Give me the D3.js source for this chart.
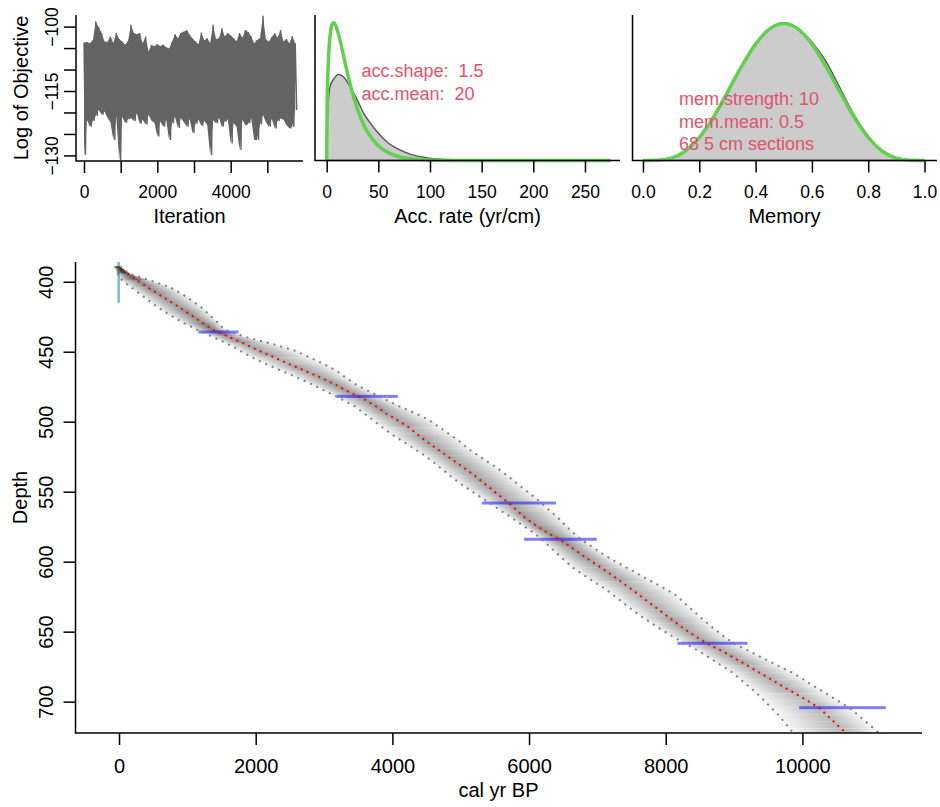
<!DOCTYPE html>
<html>
<head>
<meta charset="utf-8">
<script src="https://cdn.jsdelivr.net/npm/d3@7"></script>
<style>
body { margin: 0; background: #fff; }
svg text { font-family: "Liberation Sans", Arial, Helvetica, sans-serif; white-space: pre; }
</style>
</head>
<body>
<script>
// ---- MCMC trace (per-bin upper / lower envelope of the log objective, 80 iterations per bin)
var traceStep = 80;
var traceHi = [-103.7,-103.6,-103.9,-103.2,-98.8,-100.1,-101.5,-103.5,-103.6,-102.3,
  -103.8,-101.5,-102.9,-103.5,-104.2,-103.4,-99.6,-101.5,-101.8,-101.5,
  -103.9,-102.3,-105.8,-104.3,-104.6,-104.1,-104.5,-104.2,-104.8,-105.1,
  -103.6,-101.8,-102.7,-101.5,-101.2,-100.8,-101.9,-102.8,-103.5,-104.1,
  -101.4,-103.2,-102.7,-103.8,-99.6,-102.9,-102.7,-100.4,-102.3,-101.5,
  -102.1,-102.7,-103.4,-101.5,-102.6,-100.8,-101.3,-102.3,-103.9,-103.1,
  -102.7,-97.5,-103.0,-103.5,-102.4,-101.5,-102.6,-100.8,-103.5,-102.9,
  -103.9,-102.2,-103.9];
var traceLo = [-129.9,-121.7,-123.3,-122.0,-120.8,-119.4,-120.5,-119.8,-121.2,-122.3,
  -126.4,-120.9,-131.1,-121.0,-122.4,-121.6,-121.3,-122.0,-120.2,-122.6,
  -121.7,-122.8,-120.6,-121.9,-122.4,-125.6,-122.1,-123.3,-121.7,-126.4,
  -122.5,-121.0,-123.6,-121.3,-122.2,-123.3,-121.5,-124.8,-122.6,-121.7,
  -123.1,-122.0,-122.9,-129.9,-121.8,-122.5,-121.2,-123.3,-122.1,-121.6,
  -127.2,-122.4,-123.3,-128.7,-121.7,-123.0,-122.5,-121.4,-126.4,-126.4,
  -122.8,-120.6,-122.2,-123.3,-121.5,-123.7,-122.0,-121.4,-121.7,-122.9,
  -123.7,-123.3,-119.4];
var traceTicks = [0, 1000, 2000, 3000, 4000, 5000];
var traceLabels = [0, 2000, 4000];
var objTicks = [-130, -125, -120, -115, -110, -105, -100];
var objLabels = [-100, -115, -130];

// ---- accumulation rate: posterior (grey) and prior (green)
var accPostX = [0, 0.5, 1.5, 3.2, 7.1, 11.9, 16.8, 23.2, 29.7, 36.1, 42.6, 49, 58.7, 68.4, 81.3, 97.4, 113.5, 145.8, 200, 275];
var accPostY = [0, 0.009, 0.015, 0.0194, 0.0216, 0.0227, 0.0219, 0.0192, 0.0159, 0.0123, 0.0097, 0.0075, 0.0048, 0.0031, 0.0016, 0.0007, 0.0003, 0.0001, 0.00002, 0];
var accPriorX = [0, 0.5, 1, 2, 3, 4, 5, 6.7, 8, 10, 12, 15, 20, 25, 30, 35, 40, 50, 60, 70, 80, 100, 125, 150, 200, 275];
var accPriorY = [0, 0.0158, 0.0215, 0.0282, 0.0321, 0.0343, 0.0356, 0.0363, 0.0360, 0.0346, 0.0327, 0.0292, 0.0231, 0.0178, 0.0134, 0.0099, 0.0073, 0.0039, 0.0020, 0.0010, 0.0005, 0.00013, 0.00002, 0, 0, 0];
var accTicks = [0, 50, 100, 150, 200, 250];
var accText = ["acc.shape:  1.5", "acc.mean:  20"];

// ---- memory: posterior (grey) and prior (green)
var memX = [0, 0.05, 0.1, 0.15, 0.2, 0.25, 0.3, 0.35, 0.4, 0.45, 0.5, 0.55, 0.6, 0.65, 0.7, 0.75, 0.8, 0.85, 0.9, 0.95, 1];
var memPrior = [0, 0.0032, 0.0413, 0.1665, 0.413, 0.779, 1.225, 1.688, 2.09, 2.364, 2.461, 2.364, 2.09, 1.688, 1.225, 0.779, 0.413, 0.1665, 0.0413, 0.0032, 0];
var memPost = [0, 0.003, 0.04, 0.17, 0.40, 0.75, 1.20, 1.69, 2.09, 2.37, 2.45, 2.37, 2.13, 1.78, 1.30, 0.82, 0.44, 0.17, 0.04, 0.004, 0];
var memTicks = [0, 0.2, 0.4, 0.6, 0.8, 1.0];
var memText = ["mem.strength: 10", "mem.mean: 0.5", "68 5 cm sections"];

// ---- age-depth model (cal yr BP at each section boundary)
var depths = [389,394,399,404,409,414,419,424,429,434,
  439,444,449,454,459,464,469,474,479,484,
  489,494,499,504,509,514,519,524,529,534,
  539,544,549,554,559,564,569,574,579,584,
  589,594,599,604,609,614,619,624,629,634,
  639,644,649,654,659,664,669,674,679,684,
  689,694,699,704,709,714,719,724,729];
var meanAge = [-30,130,265,420,581,745,905,1058,1208,1357,
  1590,1818,2036,2267,2500,2737,2974,3185,3370,3590,
  3761,3903,4078,4237,4366,4495,4641,4787,4932,5078,
  5216,5344,5472,5598,5722,5837,5951,6097,6260,6440,
  6597,6740,6888,7045,7193,7339,7479,7616,7752,7888,
  8023,8160,8301,8455,8628,8832,9010,9186,9362,9538,
  9712,9888,10063,10234,10344,10453,10562,10670,10780];
var minAge = [-60,-20,45,180,315,450,588,755,925,1129,
  1352,1576,1760,1945,2161,2397,2633,2853,3057,3260,
  3453,3585,3718,3851,3989,4150,4310,4470,4603,4730,
  4855,4990,5140,5295,5450,5600,5755,5905,6055,6183,
  6295,6408,6520,6633,6784,6940,7100,7237,7370,7500,
  7642,7795,7950,8122,8300,8490,8652,8810,8970,9093,
  9215,9332,9435,9538,9640,9725,9810,9895,9980];
var maxAge = [20,140,450,750,930,1080,1220,1330,1440,1540,
  1820,2210,2560,2785,3007,3195,3330,3485,3690,3895,
  4100,4340,4540,4690,4835,4980,5100,5250,5405,5560,
  5690,5820,5950,6080,6200,6315,6430,6530,6635,6760,
  6910,7063,7230,7420,7605,7790,7980,8150,8260,8375,
  8490,8610,8735,8865,9020,9225,9425,9630,9840,10010,
  10170,10340,10505,10675,10800,10920,11040,11160,11280];

// ---- dates
var dateDepth = [389, 435.9, 481.9, 558.1, 584, 658.3, 704.3];
var dateMin = [-15, 1161, 3186, 5308, 5927, 8171, 9952];
var dateMax = [5, 1746, 4079, 6395, 6991, 9195, 11221];
var dateType = ["cal", "14C", "14C", "14C", "14C", "14C", "14C"];

var ageTicks = [0, 2000, 4000, 6000, 8000, 10000];
var depthTicks = [400, 450, 500, 550, 600, 650, 700];

var font = "'Liberation Sans', Arial, Helvetica, sans-serif";
var pink = "#DF536B", green = "#61D04F";

var svg = d3.select("body").append("svg")
    .attr("width", 940)
    .attr("height", 807);

function lbox(x0, x1, y0, y1) {
  svg.append("path")
      .attr("d", "M" + x0 + "," + y0 + "V" + y1 + "H" + x1)
      .attr("fill", "none").attr("stroke", "#000").attr("stroke-width", 1.5);
}

function xAxis(scale, y, ticks, labels, fmt, size, base) {
  var g = svg.append("g").attr("transform", "translate(0," + y + ")")
      .call(d3.axisBottom(scale).tickValues(ticks).tickSize(12).tickSizeOuter(0)
        .tickFormat(function(d) { return labels.indexOf(d) >= 0 ? fmt(d) : ""; }));
  g.select(".domain").remove();
  g.selectAll(".tick line").attr("stroke", "#000").attr("stroke-width", 1.5);
  g.selectAll(".tick text").attr("dy", null).attr("y", base).attr("fill", "#000")
      .style("font-size", size + "px").style("font-family", font);
}

function yAxis(scale, x, ticks, labels, size, off) {
  var g = svg.append("g").attr("transform", "translate(" + x + ",0)")
      .call(d3.axisLeft(scale).tickValues(ticks).tickSize(12).tickSizeOuter(0)
        .tickFormat(function(d) { return labels.indexOf(d) >= 0 ? String(d).replace("-", "\u2212") : ""; }));
  g.select(".domain").remove();
  g.selectAll(".tick line").attr("stroke", "#000").attr("stroke-width", 1.5);
  g.selectAll(".tick text").attr("dy", null).attr("x", null)
      .attr("transform", "translate(" + (-off) + ",0) rotate(-90)")
      .attr("text-anchor", "middle").attr("fill", "#000")
      .style("font-size", size + "px").style("font-family", font);
}

function label(txt, x, y, size, rot, col) {
  svg.append("text")
      .attr("transform", "translate(" + x + "," + y + ")" + (rot ? " rotate(-90)" : ""))
      .attr("text-anchor", rot === null ? "start" : "middle")
      .attr("fill", col || "#000")
      .style("font-size", size + "px")
      .text(txt);
}

// ================= panel 1: trace
var p1x = d3.scaleLinear().domain([-218, 5972]).range([76, 303]);
var p1y = d3.scaleLinear().domain([-131.3, -97.3]).range([161, 15]);
var tracePts = [];
traceHi.forEach(function(v, i) {
  tracePts.push([i * traceStep, v]);
  tracePts.push([i * traceStep + traceStep / 2, traceLo[i]]);
});
// core of the band: between the lower of neighbouring highs and the higher of neighbouring lows
svg.append("path")
    .attr("d", d3.area()
      .x(function(d, i) { return p1x(i * traceStep); })
      .y0(function(d, i) { return p1y(traceLo[i]); })
      .y1(function(d) { return p1y(d); })(traceHi))
    .attr("fill", "#646464");
svg.append("path")
    .attr("d", d3.line().x(function(d) { return p1x(d[0]); }).y(function(d) { return p1y(d[1]); })(tracePts))
    .attr("fill", "none").attr("stroke", "#646464").attr("stroke-width", 1.4);
lbox(76, 303, 15, 161);
xAxis(p1x, 161, traceTicks, traceLabels, d3.format("d"), 17.5, 37);
yAxis(p1y, 76, objTicks, objLabels, 17.5, 18);
label("Log of Objective", 28, 88, 20, true);
label("Iteration", 189.5, 223, 20, false);

// ================= panel 2: acc rate
var p2x = d3.scaleLinear().domain([-11.3, 283.9]).range([315, 620]);
var p2y = d3.scaleLinear().domain([0, 0.03834]).range([160.5, 15]);
var accPost = accPostX.map(function(x, i) { return [x, accPostY[i]]; });
var accPrior = accPriorX.map(function(x, i) { return [x, accPriorY[i]]; });
svg.append("path")
    .attr("d", d3.area().curve(d3.curveMonotoneX)
      .x(function(d) { return p2x(d[0]); }).y0(p2y(0)).y1(function(d) { return p2y(d[1]); })(accPost))
    .attr("fill", "#cccccc").attr("stroke", "#555").attr("stroke-width", 1.4);
svg.append("path")
    .attr("d", d3.line().curve(d3.curveMonotoneX)
      .x(function(d) { return p2x(d[0]); }).y(function(d) { return p2y(d[1]); })(accPrior))
    .attr("fill", "none").attr("stroke", green).attr("stroke-width", 3.5).attr("stroke-linejoin", "round");
lbox(315, 620, 15, 160.5);
xAxis(p2x, 160.5, accTicks, accTicks, d3.format("d"), 17.5, 37.5);
label("Acc. rate (yr/cm)", 467.5, 223, 20, false);
accText.forEach(function(t, i) { label(t, 361.5, 77 + i * 22.5, 18, null, pink); });

// ================= panel 3: memory
var p3x = d3.scaleLinear().domain([-0.0372, 1.0443]).range([632.5, 937]);
var p3y = d3.scaleLinear().domain([0, 2.612]).range([160.5, 15]);
svg.append("path")
    .attr("d", d3.area().curve(d3.curveMonotoneX)
      .x(function(d, i) { return p3x(d); }).y0(p3y(0)).y1(function(d, i) { return p3y(memPost[i]); })(memX))
    .attr("fill", "#cccccc").attr("stroke", "#555").attr("stroke-width", 1.4);
svg.append("path")
    .attr("d", d3.line().curve(d3.curveMonotoneX)
      .x(function(d) { return p3x(d); }).y(function(d, i) { return p3y(memPrior[i]); })(memX))
    .attr("fill", "none").attr("stroke", green).attr("stroke-width", 3.5).attr("stroke-linejoin", "round");
lbox(632.5, 937, 15, 160.5);
xAxis(p3x, 160.5, memTicks, memTicks, d3.format(".1f"), 17.5, 37.5);
label("Memory", 784.5, 223, 20, false);
memText.forEach(function(t, i) { label(t, 679, 105 + i * 22.5, 18, null, pink); });

// ================= main age-depth plot
var mx = d3.scaleLinear().domain([-637, 11750]).range([75.5, 922]);
var my = d3.scaleLinear().domain([385.9, 722.4]).range([262, 733]);

svg.append("clipPath").attr("id", "clip")
  .append("rect").attr("x", 75.5).attr("y", 262).attr("width", 846.5).attr("height", 471);
var main = svg.append("g").attr("clip-path", "url(#clip)");

// grey-scale cloud: nested bands around the mean, darker where the range is narrow
var ks = d3.range(0.08, 1.2, 0.08);
var cloud = main.append("g");
for (var i = 0; i < depths.length - 1; i++) {
  var w = ((maxAge[i] - minAge[i]) + (maxAge[i + 1] - minAge[i + 1])) / 2;
  var a = Math.min(0.2, Math.max(0.015, 0.022 * Math.pow(1000 / w, 0.85)));
  ks.forEach(function(k) {
    var pts = [
      [meanAge[i] - k * (meanAge[i] - minAge[i]), depths[i]],
      [meanAge[i] + k * (maxAge[i] - meanAge[i]), depths[i]],
      [meanAge[i + 1] + k * (maxAge[i + 1] - meanAge[i + 1]), depths[i + 1]],
      [meanAge[i + 1] - k * (meanAge[i + 1] - minAge[i + 1]), depths[i + 1]]
    ];
    cloud.append("path")
        .attr("d", "M" + pts.map(function(p) { return mx(p[0]) + "," + my(p[1]); }).join("L") + "Z")
        .attr("fill", "#000").attr("fill-opacity", a);
  });
}

// dates
dateDepth.forEach(function(d, i) {
  if (dateType[i] === "cal") {
    main.append("rect")
        .attr("x", mx((dateMin[i] + dateMax[i]) / 2) - 1.3).attr("width", 2.6)
        .attr("y", my(d - 26)).attr("height", my(d + 26) - my(d - 26))
        .attr("fill", "rgba(0,128,128,0.5)");
  } else {
    main.append("rect")
        .attr("x", mx(dateMin[i])).attr("width", mx(dateMax[i]) - mx(dateMin[i]))
        .attr("y", my(d) - 1.5).attr("height", 3)
        .attr("fill", "rgba(0,0,255,0.5)");
  }
});

// 95% ranges and mean
var ageLine = function(arr) {
  return d3.line().x(function(d, i) { return mx(arr[i]); }).y(function(d) { return my(d); })(depths);
};
[minAge, maxAge].forEach(function(arr) {
  main.append("path").attr("d", ageLine(arr))
      .attr("fill", "none").attr("stroke", "#808080").attr("stroke-width", 2)
      .attr("stroke-dasharray", "2,5");
});
main.append("path").attr("d", ageLine(meanAge))
    .attr("fill", "none").attr("stroke", "#ff0000").attr("stroke-width", 2)
    .attr("stroke-dasharray", "2,4.4");

lbox(75.5, 922, 262, 733);
xAxis(mx, 733, ageTicks, ageTicks, d3.format("d"), 20, 40);
yAxis(my, 75.5, depthTicks, depthTicks, 20, 22.5);
label("cal yr BP", 498.5, 797, 20, false);
label("Depth", 26.5, 497.5, 20, true);
</script>
</body>
</html>
